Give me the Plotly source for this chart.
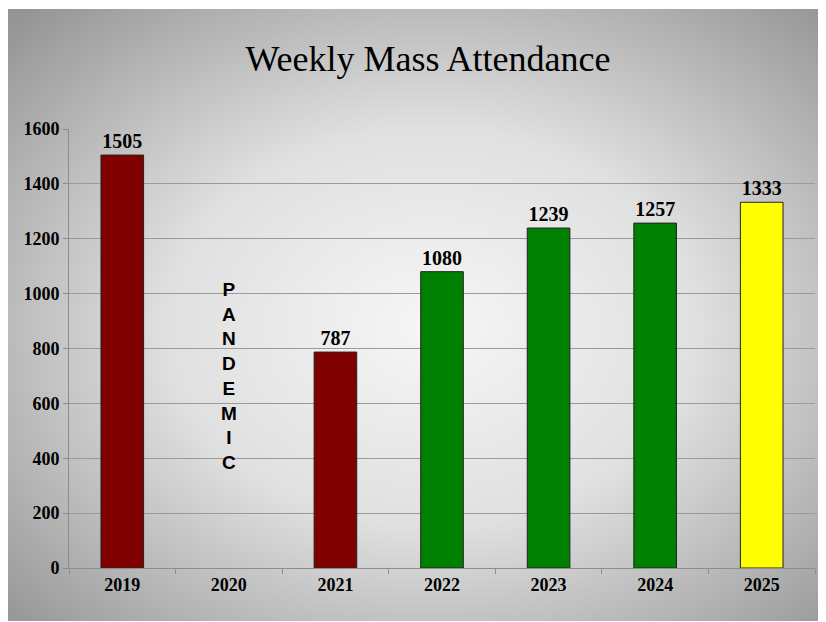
import base64
import plotly.graph_objects as go

years = ["2019", "2020", "2021", "2022", "2023", "2024", "2025"]
attendance = [1505, None, 787, 1080, 1239, 1257, 1333]
bar_colors = ["#800000", "#800000", "#800000", "#008000", "#008000", "#008000", "#ffff00"]
pandemic_letters = list("PANDEMIC")

# radial grey backdrop, like the slide background
svg = (
    '<svg xmlns="http://www.w3.org/2000/svg" width="814" height="612">'
    '<defs><radialGradient id="g" cx="52%" cy="52%" r="72%">'
    '<stop offset="0%" stop-color="#f6f6f6"/>'
    '<stop offset="45%" stop-color="#e0e0e0"/>'
    '<stop offset="100%" stop-color="#949494"/>'
    '</radialGradient></defs>'
    '<rect width="814" height="612" fill="url(#g)"/></svg>'
)
bg_uri = "data:image/svg+xml;base64," + base64.b64encode(svg.encode()).decode()

fig = go.Figure(go.Bar(
    x=years,
    y=attendance,
    marker=dict(color=bar_colors, line=dict(color="#222222", width=1)),
    width=0.4,
    text=[str(v) if v is not None else "" for v in attendance],
    textposition="outside",
    cliponaxis=False,
    textfont=dict(family="Liberation Serif", size=20, color="black", weight="bold"),
))

# vertical "PANDEMIC" in the empty 2020 slot (x index 1)
fig.add_annotation(
    x=1, y=700, xref="x", yref="y",
    text="<br>".join(pandemic_letters),
    showarrow=False,
    font=dict(family="Liberation Sans", size=19, color="black", weight="bold"),
)

# page has an 8px body margin, so the figure is 818x614
plot_l, plot_r, plot_t, plot_b = 61, 807, 121, 560
plot_w, plot_h = plot_r - plot_l, plot_b - plot_t
fig.add_layout_image(
    source=bg_uri, xref="paper", yref="paper",
    x=(0 - plot_l) / plot_w, y=(plot_b - 1) / plot_h,
    sizex=814 / plot_w, sizey=612 / plot_h,
    sizing="stretch", xanchor="left", yanchor="top", layer="below",
)

fig.update_layout(
    width=818, height=614,
    margin=dict(l=plot_l, r=818 - plot_r, t=plot_t, b=614 - plot_b),
    paper_bgcolor="white",
    plot_bgcolor="rgba(0,0,0,0)",
    showlegend=False,
    title=dict(
        text="Weekly Mass Attendance",
        x=(420 - plot_l) / plot_w, xref="paper", xanchor="center",
        y=(614 - 50) / 614, yanchor="middle",
        font=dict(family="Liberation Serif", size=36, color="black"),
    ),
)

fig.update_xaxes(
    type="category", range=[-0.5, 6.5], automargin=False,
    showline=True, linecolor="#8c8c8c", linewidth=1,
    ticks="outside", tickson="boundaries", ticklen=5, tickcolor="#8c8c8c",
    tickfont=dict(family="Liberation Serif", size=18, color="black", weight="bold"),
    tickangle=0,
    showgrid=False,
)
fig.update_yaxes(
    range=[0, 1600], dtick=200, automargin=False,
    showline=True, linecolor="#8c8c8c", linewidth=1,
    ticks="outside", ticklen=5, tickcolor="#8c8c8c",
    showgrid=True, gridcolor="#9a9a9a", gridwidth=1,
    zeroline=False,
    tickfont=dict(family="Liberation Serif", size=18, color="black", weight="bold"),
)

fig.write_html("out.html")
